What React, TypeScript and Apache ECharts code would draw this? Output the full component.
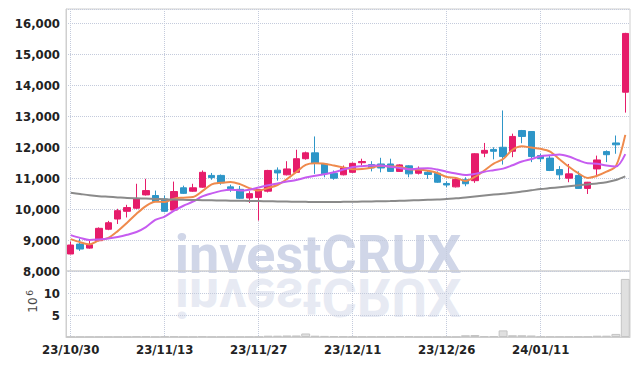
import React, { useEffect, useRef } from "react";
import * as echarts from "echarts";

const categories = [
  "23/10/30", "23/10/31", "23/11/01", "23/11/02", "23/11/03", "23/11/06", "23/11/07", "23/11/08", "23/11/09", "23/11/10",
  "23/11/13", "23/11/14", "23/11/15", "23/11/16", "23/11/17", "23/11/20", "23/11/21", "23/11/22", "23/11/23", "23/11/24",
  "23/11/27", "23/11/28", "23/11/29", "23/11/30", "23/12/01", "23/12/04", "23/12/05", "23/12/06", "23/12/07", "23/12/08",
  "23/12/11", "23/12/12", "23/12/13", "23/12/14", "23/12/15", "23/12/18", "23/12/19", "23/12/20", "23/12/21", "23/12/22",
  "23/12/26", "23/12/27", "23/12/28", "24/01/02", "24/01/03", "24/01/04", "24/01/05", "24/01/08", "24/01/09", "24/01/10",
  "24/01/11", "24/01/12", "24/01/15", "24/01/16", "24/01/17", "24/01/18", "24/01/19", "24/01/22", "24/01/23", "24/01/24",
];

const opens = [
  8550, 8870, 8740, 8980, 9350, 9680, 9930, 10030, 10460, 10440,
  10330, 9970, 10690, 10580, 10710, 11090, 11090, 10720, 10640, 10360,
  10380, 10580, 11260, 11110, 11190, 11630, 11820, 11460, 11160, 11110,
  11190, 11500, 11440, 11460, 11460, 11220, 11400, 11160, 11190, 11160,
  10830, 10720, 10950, 10920, 11810, 11930, 12000, 11870, 12540, 12510,
  11730, 11650, 11280, 11000, 11090, 10670, 11300, 11860, 12140, 13780,
];
const closes = [
  8840, 8710, 8850, 9380, 9560, 9950, 10050, 10330, 10600, 10250,
  9930, 10570, 10510, 10690, 11190, 11020, 10850, 10660, 10350, 10500,
  10630, 11250, 11170, 11300, 11630, 11820, 11480, 11140, 11000, 11330,
  11480, 11540, 11330, 11330, 11220, 11430, 11140, 11300, 11120, 10870,
  10780, 10960, 10820, 11790, 11900, 11870, 11700, 12350, 12350, 11700,
  11630, 11250, 11110, 11140, 10670, 10870, 11590, 11760, 12080, 15680,
];
const lows = [
  8540, 8650, 8720, 8960, 9320, 9520, 9730, 10000, 10440, 10230,
  9900, 9940, 10490, 10560, 10690, 10950, 10790, 10560, 10330, 10200,
  9630, 10540, 10920, 11090, 11170, 11600, 11140, 11030, 10950, 11090,
  11170, 11410, 11220, 11190, 11200, 11210, 11030, 11120, 10980, 10850,
  10710, 10700, 10740, 10850, 11680, 11610, 11440, 11680, 12130, 11520,
  11520, 11230, 10950, 10870, 10650, 10490, 11030, 11520, 11790, 13120,
];
const highs = [
  8950, 9050, 9000, 9410, 9620, 10010, 10140, 10820, 10980, 10600,
  10440, 10890, 10760, 10820, 11250, 11170, 11120, 10790, 10750, 10580,
  10650, 11270, 11350, 11550, 11920, 11860, 12350, 11480, 11250, 11410,
  11510, 11630, 11550, 11660, 11630, 11450, 11420, 11380, 11250, 11220,
  10900, 11030, 11030, 11810, 12140, 12000, 13190, 12440, 12560, 12520,
  11790, 11730, 11390, 11460, 11220, 10880, 11730, 11900, 12380, 15700,
];

const ma5 = [
  9030, 8930, 8860, 8990, 9070, 9290, 9560, 9850, 10100, 10240,
  10230, 10340, 10370, 10390, 10580, 10800, 10850, 10880, 10810, 10680,
  10600, 10680, 10780, 10970, 11200, 11430, 11480, 11470, 11410, 11350,
  11290, 11300, 11340, 11400, 11380, 11370, 11290, 11280, 11240, 11170,
  11040, 11010, 10910, 11040, 11250, 11470, 11620, 11920, 12030, 11990,
  11950, 11860, 11610, 11370, 11160, 11010, 11080, 11210, 11390, 12400,
];
const ma10 = [
  9160, 9070, 9000, 9020, 9050, 9100, 9170, 9260, 9420, 9650,
  9760, 9950, 10110, 10240, 10410, 10510, 10590, 10630, 10600, 10630,
  10700, 10770, 10830, 10890, 10940, 11020, 11080, 11130, 11190, 11280,
  11360, 11390, 11410, 11410, 11370, 11330, 11290, 11310, 11320, 11280,
  11210, 11150, 11100, 11140, 11210, 11260, 11310, 11420, 11540, 11620,
  11710, 11740, 11770, 11700, 11580, 11480, 11470, 11410, 11380, 11780,
];
const ma60 = [
  10530, 10490, 10450, 10420, 10400, 10380, 10360, 10350, 10340, 10330,
  10320, 10310, 10300, 10295, 10290, 10285, 10280, 10275, 10270, 10265,
  10260, 10255, 10250, 10245, 10240, 10235, 10230, 10230, 10230, 10235,
  10240, 10245, 10250, 10255, 10260, 10270, 10280, 10290, 10300, 10310,
  10330, 10350, 10380, 10410, 10440, 10470, 10500, 10530, 10570, 10610,
  10650, 10680, 10710, 10740, 10770, 10800, 10830, 10870, 10940, 11060,
];

// volume in millions of shares
const volumes = [
  0.05, 0.05, 0.05, 0.05, 0.05, 0.05, 0.05, 0.15, 0.15, 0.05,
  0.15, 0.15, 0.05, 0.05, 0.15, 0.05, 0.05, 0.05, 0.05, 0.05,
  0.05, 0.3, 0.3, 0.35, 0.35, 0.8, 0.3, 0.25, 0.2, 0.15,
  0.08, 0.08, 0.08, 0.08, 0.08, 0.2, 0.15, 0.05, 0.05, 0.05,
  0.05, 0.05, 0.4, 0.45, 0.2, 0.2, 1.5, 0.4, 0.4, 0.35,
  0.08, 0.08, 0.08, 0.08, 0.08, 0.08, 0.3, 0.3, 0.7, 13.2,
];

const UP = "#e61c6a";
const DOWN = "#2e96c8";
const LABEL_FONT = "'Liberation Sans Narrow', 'DejaVu Sans Condensed', 'Liberation Sans', sans-serif";
const GRID_LINE = { type: "dotted" as const, color: "#c4cbdc", width: 1 };

export default function App() {
  const ref = useRef<HTMLDivElement>(null);

  useEffect(() => {
    const chart = echarts.init(ref.current!, null, { renderer: "svg" });
    const candles = categories.map((_, i) => [opens[i], closes[i], lows[i], highs[i]]);

    const fmt = (v: number) => v.toLocaleString("en-US");
    const labelStyle = {
      margin: 6,
      color: "#222",
      fontSize: 13,
      fontWeight: "bold",
      fontFamily: LABEL_FONT,
    };

    chart.setOption({
      animation: false,
      backgroundColor: "#ffffff",
      grid: [
        { left: 66, top: 9, width: 564, height: 262, show: true, borderColor: "#cfcfcf", borderWidth: 1 },
        { left: 66, top: 271, width: 564, height: 66, show: true, borderColor: "#cfcfcf", borderWidth: 1 },
      ],
      xAxis: [
        {
          type: "category",
          gridIndex: 0,
          data: categories,
          boundaryGap: true,
          axisLine: { show: false },
          axisTick: { show: false },
          axisLabel: { show: false },
          splitLine: { show: true, interval: 9, alignWithLabel: true, lineStyle: GRID_LINE },
        },
        {
          type: "category",
          gridIndex: 1,
          data: categories,
          boundaryGap: true,
          axisLine: { show: true, lineStyle: { color: "#cfcfcf" } },
          axisTick: { show: false },
          axisLabel: { ...labelStyle, interval: 9 },
          splitLine: { show: true, interval: 9, alignWithLabel: true, lineStyle: GRID_LINE },
        },
      ],
      yAxis: [
        {
          type: "value",
          gridIndex: 0,
          min: 8000,
          max: 16470,
          interval: 1000,
          axisLine: { show: true, lineStyle: { color: "#cfcfcf" } },
          axisTick: { show: false },
          axisLabel: { ...labelStyle, showMaxLabel: false, formatter: (v: number) => fmt(v) },
          splitLine: { show: true, lineStyle: GRID_LINE },
        },
        {
          type: "value",
          gridIndex: 1,
          min: 0,
          max: 15,
          interval: 5,
          axisLine: { show: true, lineStyle: { color: "#cfcfcf" } },
          axisTick: { show: false },
          axisLabel: { ...labelStyle, showMinLabel: false, showMaxLabel: false },
          splitLine: { show: true, lineStyle: GRID_LINE },
        },
      ],
      graphic: [
        {
          type: "text",
          x: 318,
          y: 254,
          scaleX: 1.0,
          z: -1,
          silent: true,
          style: {
            text: "investCRUX",
            fontSize: 54,
            fontWeight: "bold",
            fontFamily: "Roboto",
            fill: "#d0d6e8",
            align: "center",
            verticalAlign: "middle",
          },
        },
        {
          type: "text",
          x: 318,
          y: 297,
          scaleX: 1.0,
          scaleY: -1,
          z: -1,
          silent: true,
          style: {
            text: "investCRUX",
            fontSize: 54,
            fontWeight: "bold",
            fontFamily: "Roboto",
            fill: "#d0d6e8",
            opacity: 0.5,
            align: "center",
            verticalAlign: "middle",
          },
        },
        {
          type: "text",
          x: 33,
          y: 305,
          rotation: Math.PI / 2,
          silent: true,
          style: { text: "10", fontSize: 12, fontFamily: "DejaVu Sans", fill: "#444", align: "center", verticalAlign: "middle" },
        },
        {
          type: "text",
          x: 30,
          y: 293,
          rotation: Math.PI / 2,
          silent: true,
          style: { text: "6", fontSize: 9, fontFamily: "DejaVu Sans", fill: "#444", align: "center", verticalAlign: "middle" },
        },
      ],
      series: [
        {
          name: "price",
          type: "candlestick",
          xAxisIndex: 0,
          yAxisIndex: 0,
          data: candles,
          barWidth: 7,
          z: 3,
          itemStyle: { color: UP, color0: DOWN, borderColor: UP, borderColor0: DOWN, borderWidth: 1 },
        },
        {
          name: "MA5",
          type: "line",
          xAxisIndex: 0,
          yAxisIndex: 0,
          data: ma5,
          smooth: 0.3,
          showSymbol: false,
          z: 4,
          lineStyle: { color: "#ef8a4c", width: 2 },
        },
        {
          name: "MA10",
          type: "line",
          xAxisIndex: 0,
          yAxisIndex: 0,
          data: ma10,
          smooth: 0.3,
          showSymbol: false,
          z: 4,
          lineStyle: { color: "#c65cf0", width: 2 },
        },
        {
          name: "MA60",
          type: "line",
          xAxisIndex: 0,
          yAxisIndex: 0,
          data: ma60,
          smooth: 0.3,
          showSymbol: false,
          z: 4,
          lineStyle: { color: "#8a8a8a", width: 2 },
        },
        {
          name: "volume",
          type: "bar",
          xAxisIndex: 1,
          yAxisIndex: 1,
          data: volumes,
          barCategoryGap: "5%",
          itemStyle: { color: "#e0e0e0", borderColor: "#c4c4c4", borderWidth: 1 },
        },
      ],
    });

    return () => chart.dispose();
  }, []);

  return <div ref={ref} style={{ position: "fixed", left: 0, top: 0, width: 639, height: 366 }} />;
}
